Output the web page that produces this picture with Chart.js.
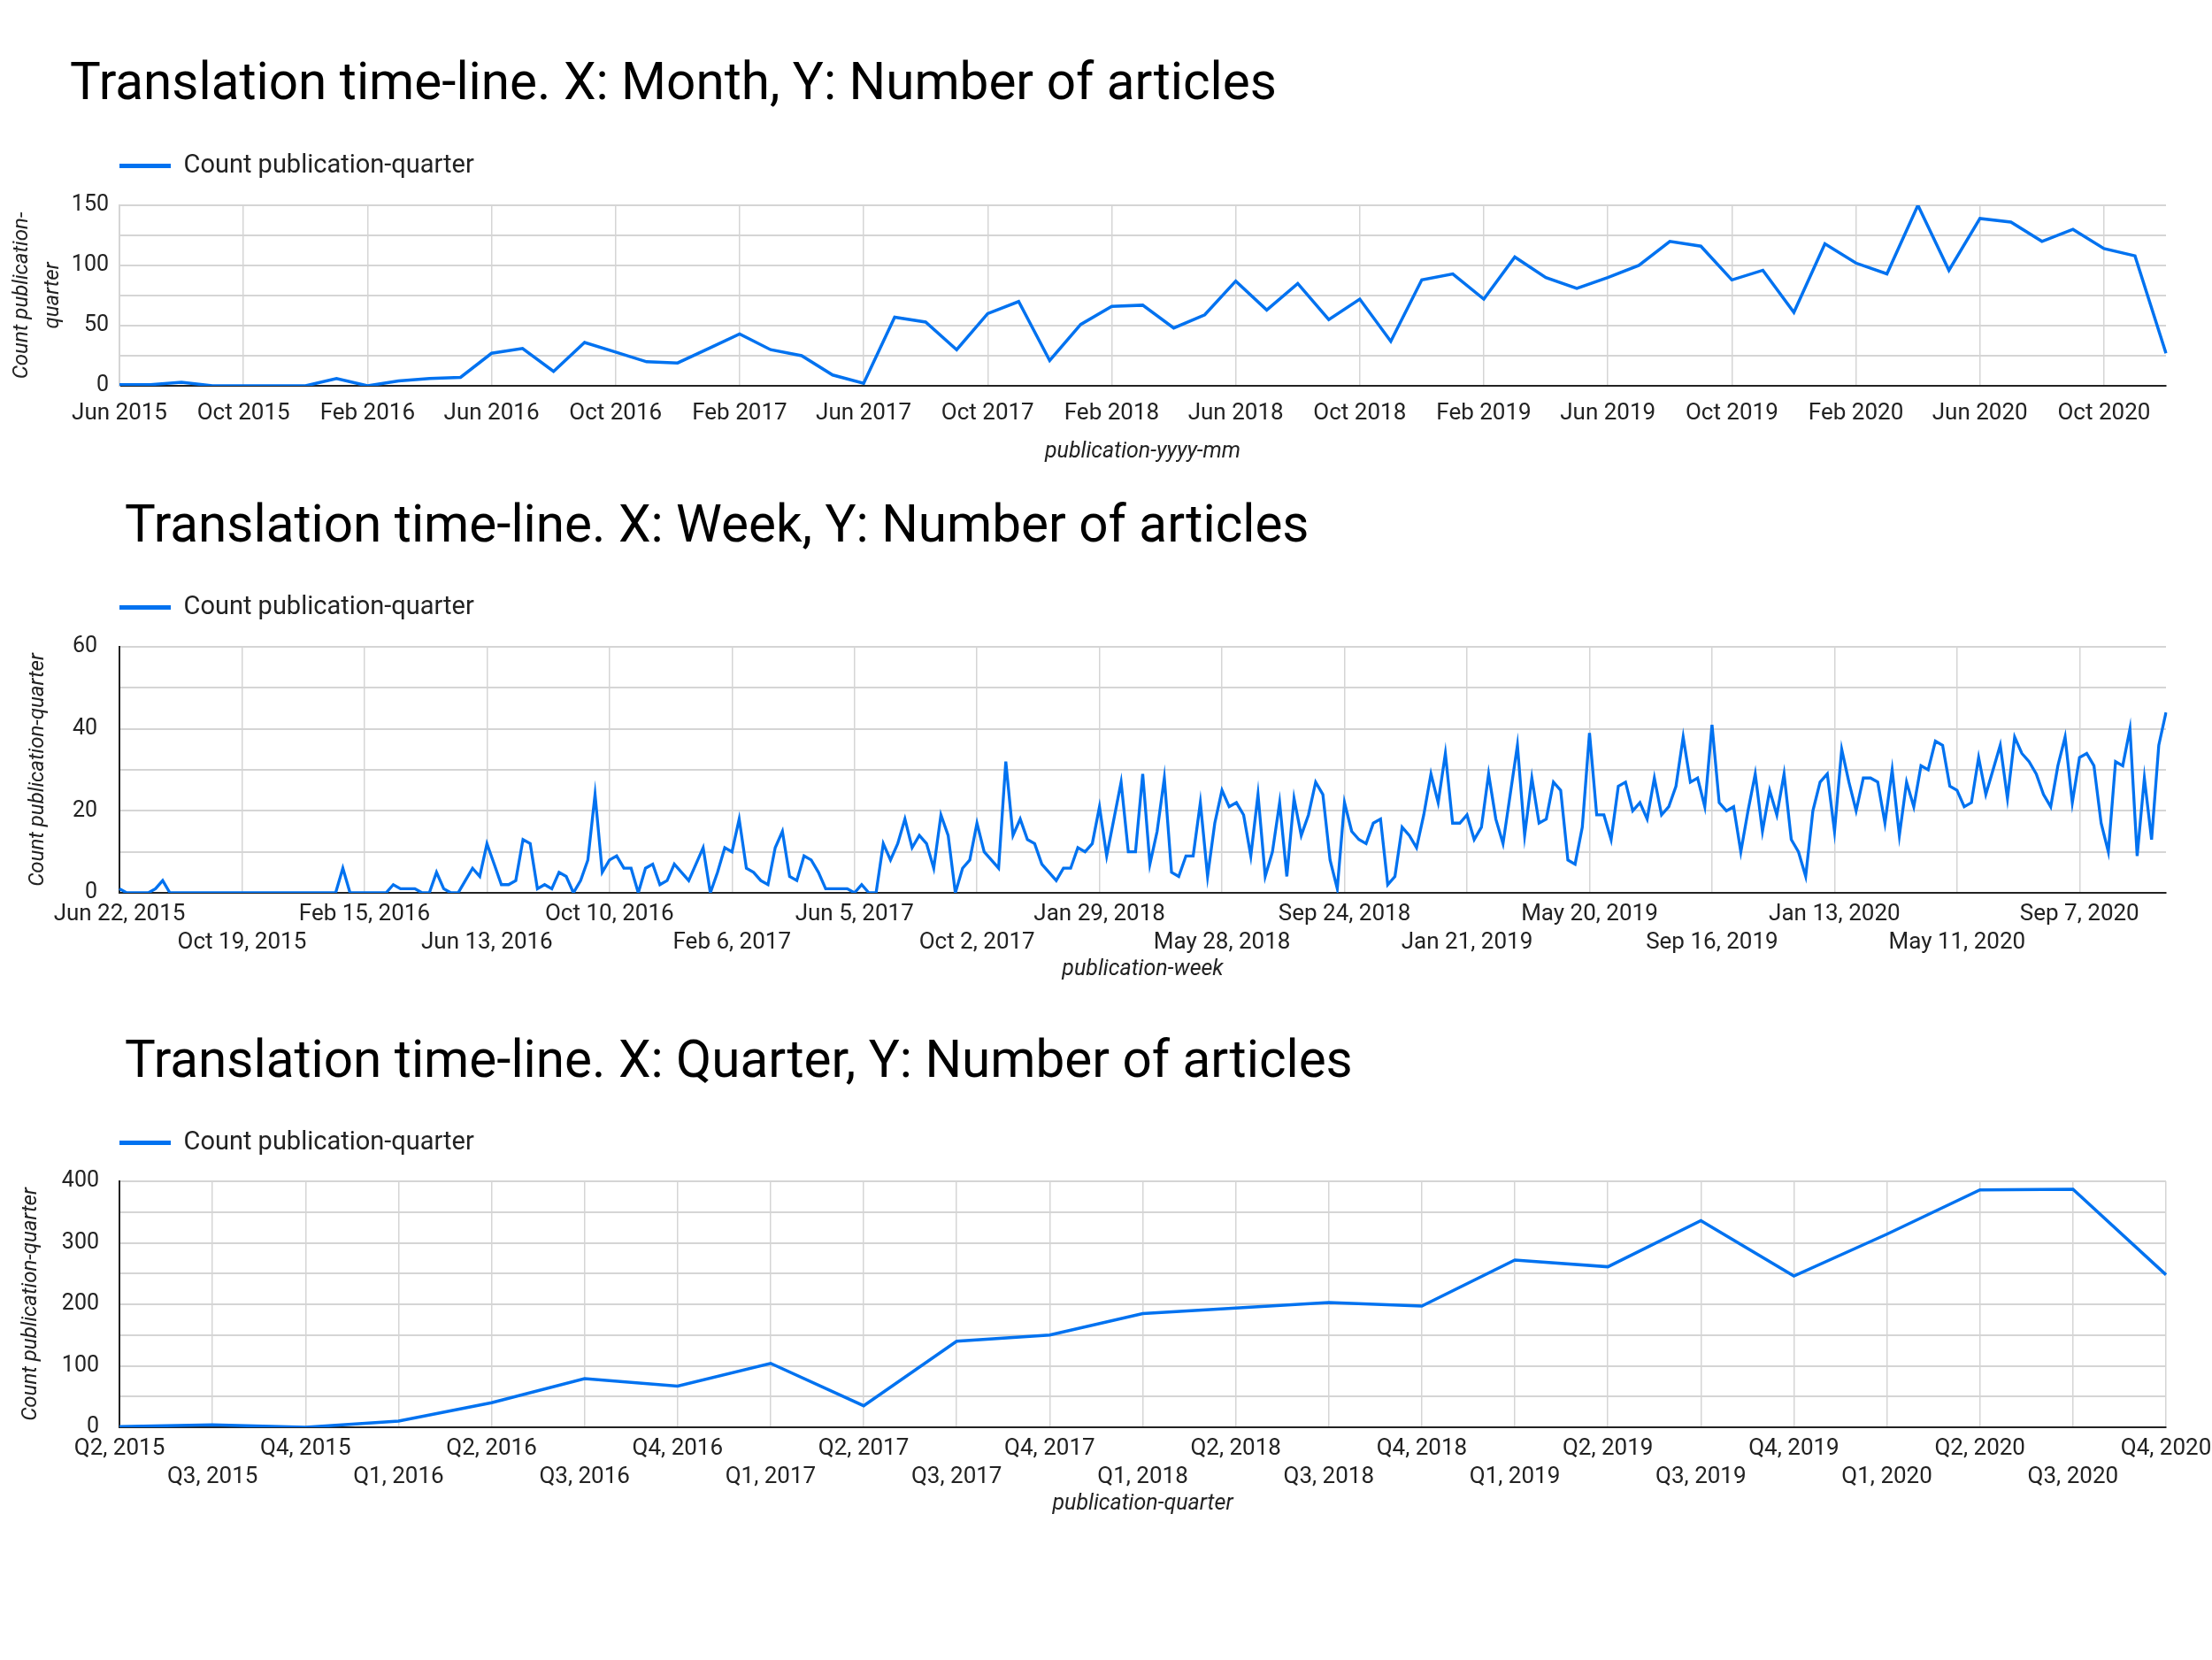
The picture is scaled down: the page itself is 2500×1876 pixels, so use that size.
<!DOCTYPE html>
<html>
<head>
<meta charset="utf-8">
<script src="https://cdn.jsdelivr.net/npm/chart.js@4.4.1/dist/chart.umd.min.js"></script>
<style>
  html, body { margin: 0; padding: 0; background: #ffffff; }
  body { width: 2500px; height: 1876px; position: relative; overflow: hidden; font-family: Roboto, sans-serif; }
  .ttl { position: absolute; margin: 0; font-family: Roboto, sans-serif; font-weight: 400; font-size: 58.4px; line-height: 58px; color: #000; white-space: nowrap; }
  canvas { position: absolute; left: 0; }
</style>
</head>
<body>
<h1 class="ttl" style="left:79px; top:63px;">Translation time-line. X: Month, Y: Number of articles</h1>
<h1 class="ttl" style="left:141px; top:563px;">Translation time-line. X: Week, Y: Number of articles</h1>
<h1 class="ttl" style="left:141px; top:1168px;">Translation time-line. X: Quarter, Y: Number of articles</h1>
<canvas id="cMonth" width="2500" height="560" style="top:0px;"></canvas>
<canvas id="cWeek" width="2500" height="580" style="top:540px;"></canvas>
<canvas id="cQuarter" width="2500" height="600" style="top:1130px;"></canvas>
<script>
// ---------------- DATA ----------------
const seriesName = 'Count publication-quarter';

// Monthly counts, Jun 2015 .. Dec 2020
const monthlyCounts = [
  1, 1, 3, 0, 0, 0, 0,
  6, 0, 4, 6, 7, 27, 31, 12, 36, 28, 20, 19,
  31, 43, 30, 25, 9, 2, 57, 53, 30, 60, 70, 21,
  51, 66, 67, 48, 59, 87, 63, 85, 55, 72, 37, 88,
  93, 72, 107, 90, 81, 90, 100, 120, 116, 88, 96, 61,
  118, 102, 93, 150, 96, 139, 136, 120, 130, 114, 108, 27
];
const monthNames = ['Jan','Feb','Mar','Apr','May','Jun','Jul','Aug','Sep','Oct','Nov','Dec'];
const monthTickLabels = ['Jun 2015','Oct 2015','Feb 2016','Jun 2016','Oct 2016','Feb 2017','Jun 2017',
  'Oct 2017','Feb 2018','Jun 2018','Oct 2018','Feb 2019','Jun 2019','Oct 2019','Feb 2020','Jun 2020','Oct 2020'];

// Weekly counts, week of Jun 22, 2015 onward
const weeklyCounts = [
  1,0,0,0,0,1,3,0,0,0,
  0,0,0,0,0,0,0,0,0,0,
  0,0,0,0,0,0,0,0,0,0,
  0,6,0,0,0,0,0,0,2,1,
  1,1,0,0,5,1,0,0,3,6,
  4,12,7,2,2,3,13,12,1,2,
  1,5,4,0,3,8,24,5,8,9,
  6,6,0,6,7,2,3,7,5,3,
  7,11,0,5,11,10,18,6,5,3,
  2,11,15,4,3,9,8,5,1,1,
  1,1,0,2,0,0,12,8,12,18,
  11,14,12,6,19,14,0,6,8,17,
  10,8,6,32,14,18,13,12,7,5,
  3,6,6,11,10,12,21,9,18,27,
  10,10,29,7,15,28,5,4,9,9,
  22,4,17,25,21,22,19,9,24,4,
  10,22,4,23,14,19,27,24,8,1,
  22,15,13,12,17,18,2,4,16,14,
  11,19,29,22,34,17,17,19,13,16,
  29,18,12,24,36,14,28,17,18,27,
  25,8,7,16,39,19,19,13,26,27,
  20,22,18,28,19,21,26,38,27,28,
  21,41,22,20,21,10,20,29,15,25,
  19,29,13,10,4,20,27,29,15,35,
  27,20,28,28,27,17,30,14,27,21,
  31,30,37,36,26,25,21,22,33,24,
  30,36,23,38,34,32,29,24,21,31,
  38,22,33,34,31,17,10,32,31,40,
  9,28,13,36,44
];
const weekTickLabels = ['Jun 22, 2015','Oct 19, 2015','Feb 15, 2016','Jun 13, 2016','Oct 10, 2016',
  'Feb 6, 2017','Jun 5, 2017','Oct 2, 2017','Jan 29, 2018','May 28, 2018','Sep 24, 2018',
  'Jan 21, 2019','May 20, 2019','Sep 16, 2019','Jan 13, 2020','May 11, 2020','Sep 7, 2020'];

// Quarterly counts
const quarterLabels = ['Q2, 2015','Q3, 2015','Q4, 2015','Q1, 2016','Q2, 2016','Q3, 2016','Q4, 2016',
  'Q1, 2017','Q2, 2017','Q3, 2017','Q4, 2017','Q1, 2018','Q2, 2018','Q3, 2018','Q4, 2018',
  'Q1, 2019','Q2, 2019','Q3, 2019','Q4, 2019','Q1, 2020','Q2, 2020','Q3, 2020','Q4, 2020'];
const quarterlyCounts = [1, 4, 0, 10, 40, 79, 67, 104, 35, 140, 150, 185, 194, 203, 197, 272, 261, 336, 246, 314, 386, 387, 248];

// category labels
const monthLabels = monthlyCounts.map((_, i) => {
  const m = (5 + i) % 12, y = 2015 + Math.floor((5 + i) / 12);
  return monthNames[m] + ' ' + y;
});
const weekLabels = weeklyCounts.map((_, i) => {
  const d = new Date(2015, 5, 22 + 7 * i);
  return monthNames[d.getMonth()] + ' ' + d.getDate() + ', ' + d.getFullYear();
});

// ---------------- STYLE ----------------
const BLUE = 'rgb(0,114,240)';
const GRID = '#d5d5d5';
const TXT = '#222222';
const NONE = 'rgba(0,0,0,0)';

function buildChart(id, o) {
  return new Chart(document.getElementById(id), {
    type: 'line',
    data: {
      labels: o.labels,
      datasets: [{
        label: seriesName,
        data: o.data,
        borderColor: BLUE,
        backgroundColor: BLUE,
        borderWidth: o.lineWidth,
        pointRadius: 0,
        pointHoverRadius: 0,
        tension: 0,
        fill: false
      }]
    },
    options: {
      responsive: false,
      animation: false,
      devicePixelRatio: 1,
      layout: { padding: { top: o.padTop, right: 52, bottom: 0, left: 0 } },
      plugins: {
        title: { display: false },
        subtitle: {
          display: true, text: '', position: 'top', fullSize: false, weight: 1,
          padding: 0, font: { size: o.gap, lineHeight: 1 }
        },
        legend: {
          display: true, position: 'top', align: 'start', fullSize: false, weight: 3000,
          labels: {
            padding: 0, usePointStyle: true, pointStyle: 'line', pointStyleWidth: 58,
            color: TXT, font: { family: 'Roboto', size: 29 },
            generateLabels: (chart) => Chart.defaults.plugins.legend.labels.generateLabels(chart)
              .map(l => Object.assign(l, { lineWidth: 5, pointStyle: 'line', strokeStyle: BLUE }))
          }
        },
        tooltip: { enabled: false }
      },
      scales: {
        x: {
          type: 'category',
          offset: false,
          grid: {
            drawTicks: false,
            color: (c) => o.xGridShown(c.index) ? GRID : NONE,
            lineWidth: (c) => o.xGridShown(c.index) ? 1.5 : 0
          },
          border: { display: true, color: '#222', width: 2 },
          ticks: {
            autoSkip: false, maxRotation: 0, minRotation: 0,
            padding: o.xPad, color: TXT,
            font: { family: 'Roboto', size: 26, lineHeight: 1.25 },
            callback: o.xCallback
          },
          title: {
            display: true, text: o.xTitle, color: TXT,
            font: { family: 'Roboto', size: 25, style: 'italic', lineHeight: 1.2 },
            padding: { top: 0, bottom: o.xTitlePadBottom }
          },
          afterFit: (s) => { s.height = o.xHeight; s.paddingLeft = 0; s.paddingRight = 0; }
        },
        y: {
          min: 0, max: o.yMax,
          grid: { drawTicks: false, color: GRID, lineWidth: 2 },
          border: { display: true, color: o.yBorderColor, width: 2 },
          ticks: {
            stepSize: o.yStep, padding: o.yPad, color: TXT,
            font: { family: 'Roboto', size: 25 },
            callback: (v) => (v % o.yLabelEvery === 0 ? String(v) : '')
          },
          title: {
            display: true, text: o.yTitle, color: TXT,
            font: { family: 'Roboto', size: 24, style: 'italic', lineHeight: o.yTitleLH },
            padding: { top: o.yTitlePadTop, bottom: 0 }
          },
          afterFit: (s) => { s.width = 135; }
        }
      }
    }
  });
}

// Month chart
buildChart('cMonth', {
  labels: monthLabels, data: monthlyCounts, lineWidth: 3.5,
  padTop: 173, gap: 20,
  xGridShown: (i) => i % 4 === 0,
  xCallback: function (v, i) { return i % 4 === 0 ? monthTickLabels[i / 4] : ''; },
  xPad: 15, xTitle: 'publication-yyyy-mm', xTitlePadBottom: 34.6, xHeight: 124,
  yMax: 150, yStep: 25, yLabelEvery: 50, yPad: 12, yBorderColor: GRID,
  yTitle: ['Count publication-', 'quarter'], yTitleLH: 1.46, yTitlePadTop: 7.5
});

// Week chart
buildChart('cWeek', {
  labels: weekLabels, data: weeklyCounts, lineWidth: 3.3,
  padTop: 132, gap: 20,
  xGridShown: (i) => i % 17 === 0,
  xCallback: function (v, i) {
    if (i % 17 !== 0) return '';
    const k = i / 17;
    const t = weekTickLabels[k];
    return k % 2 ? ['', t] : t;
  },
  xPad: 8, xTitle: 'publication-week', xTitlePadBottom: 9.6, xHeight: 111,
  yMax: 60, yStep: 10, yLabelEvery: 20, yPad: 25, yBorderColor: '#222',
  yTitle: 'Count publication-quarter', yTitleLH: 1.2, yTitlePadTop: 28.6
});

// Quarter chart
buildChart('cQuarter', {
  labels: quarterLabels, data: quarterlyCounts, lineWidth: 3.5,
  padTop: 147, gap: 19,
  xGridShown: () => true,
  xCallback: function (v, i) {
    const t = quarterLabels[i];
    return i % 2 ? ['', t] : t;
  },
  xPad: 8, xTitle: 'publication-quarter', xTitlePadBottom: 15.6, xHeight: 117,
  yMax: 400, yStep: 50, yLabelEvery: 100, yPad: 23, yBorderColor: '#222',
  yTitle: 'Count publication-quarter', yTitleLH: 1.2, yTitlePadTop: 20.6
});
</script>
</body>
</html>
